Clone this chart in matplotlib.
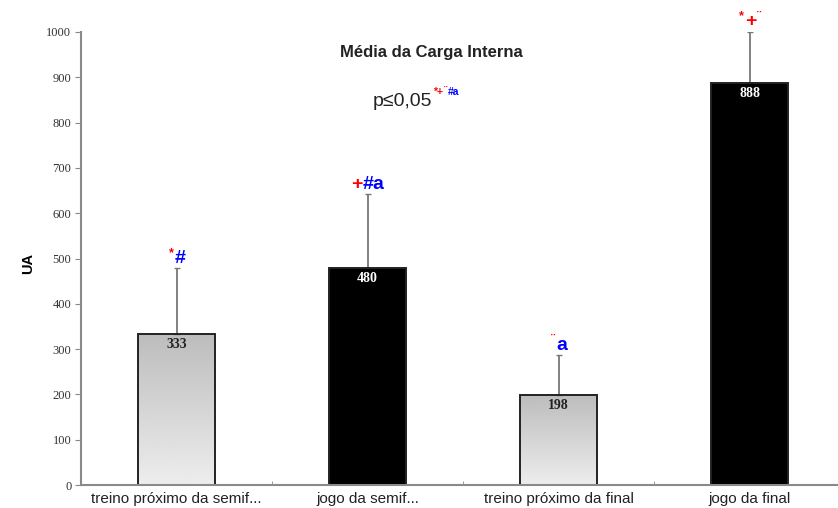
import numpy as np
import matplotlib
matplotlib.use("Agg")
import matplotlib.pyplot as plt
from matplotlib.transforms import offset_copy

# Mean internal load per session (UA) with upper SD
categories = ["treino próximo da semif...", "jogo da semif...",
              "treino próximo da final", "jogo da final"]
means = [333, 480, 198, 888]
sd_upper = [145, 162, 88, 112]
is_game = [False, True, False, True]

# significance marks above each bar: (symbol, colour, small?)
marks = [
    [("*", "red", True), ("#", "blue", False)],
    [("+", "red", False), ("#a", "blue", False)],
    [("¨", "red", True), ("a", "blue", False)],
    [("*", "red", True), ("+", "red", False), ("¨", "red", True)],
]
p_label = "p≤0,05"
p_marks = [("*+", "red", True), ("¨", "red", True), ("#a", "blue", True)]

fig = plt.figure(figsize=(8.38, 5.08), dpi=100)
ax = fig.add_axes([81 / 838, 23 / 508, 764 / 838, 453 / 508])

x = np.arange(len(categories))
width = 0.4
axis_grey = "#8a8a8a"
sans = "Liberation Sans"
serif = "Liberation Serif"


def piece_row(x0, y0, trans, pieces, big, small, rise, dy=0, center=True):
    """Write coloured pieces side by side on one baseline."""
    renderer = fig.canvas.get_renderer()
    texts = []
    for piece in pieces:
        sym, col, is_small = piece[:3]
        weight = piece[3] if len(piece) > 3 else "bold"
        t = fig.text(x0, y0, sym, transform=trans, color=col,
                     fontsize=small if is_small else big, fontweight=weight,
                     family=sans, ha="left", va="baseline")
        texts.append((t, is_small))
    widths = [t.get_window_extent(renderer).width * 72 / fig.dpi
              for t, _ in texts]
    pos = -sum(widths) / 2 if center else 0
    for (t, is_small), w in zip(texts, widths):
        t.set_transform(offset_copy(trans, fig=fig, x=pos,
                                    y=dy + (rise if is_small else 0),
                                    units="points"))
        pos += w + 0.5


bars = ax.bar(x, means, width=width, color="black", edgecolor="#222222",
              linewidth=1.4, zorder=2)

# grey gradient fill for the training bars
grad = np.linspace(0.93, 0.74, 256).reshape(-1, 1)
for b, game in zip(bars, is_game):
    if game:
        continue
    b.set_facecolor("none")
    x0, y0 = b.get_x(), b.get_y()
    img = ax.imshow(grad, cmap="gray", vmin=0, vmax=1, aspect="auto",
                    extent=[x0, x0 + b.get_width(), y0, y0 + b.get_height()],
                    origin="lower", zorder=1)
    img.set_clip_path(b)

ax.errorbar(x, means, yerr=[np.zeros(len(means)), sd_upper], fmt="none",
            ecolor="#777777", elinewidth=1.3, capsize=2, capthick=1, zorder=1)

# values printed at the top of each bar
for xi, m, game in zip(x, means, is_game):
    ax.annotate(str(m), (xi, m), xytext=(0, -3), textcoords="offset points",
                ha="center", va="top", fontsize=10, fontweight="bold",
                family=serif, color="white" if game else "#222222", zorder=3)

ax.set_xlim(-0.5, 3.5)
ax.set_ylim(0, 1000)
ax.set_yticks(range(0, 1001, 100))
ax.set_xticks(x)
ax.set_xticklabels(categories, fontsize=11, family=sans, color="#222222")
ax.set_xticks(x[:-1] + 0.5, minor=True)
ax.tick_params(axis="x", which="major", length=0, pad=5)
ax.tick_params(axis="x", which="minor", direction="in", length=3,
               color=axis_grey)
ax.tick_params(axis="y", direction="out", length=4, color=axis_grey,
               labelsize=9, labelcolor="#333333", pad=3)
for lab in ax.get_yticklabels():
    lab.set_family(serif)

for side in ["top", "right"]:
    ax.spines[side].set_visible(False)
for side in ["left", "bottom"]:
    ax.spines[side].set_color(axis_grey)
    ax.spines[side].set_linewidth(1.5)

# coloured significance symbols above the error bars
for xi, m, s, pieces in zip(x, means, sd_upper, marks):
    piece_row(xi, m + s, ax.transData, pieces, big=14, small=9, rise=5, dy=4)

fig.text(28 / 838, 1 - 263 / 508, "UA", rotation=90, ha="center",
         va="center", fontsize=10.5, fontweight="bold", family=sans)

fig.text(431 / 838, 1 - 52 / 508, "Média da Carga Interna", ha="center",
         va="center", fontsize=12, fontweight="bold", family=sans,
         color="#222222")

# p-value note with coloured superscript marks
piece_row(373 / 838, 1 - 106 / 508, fig.transFigure,
          [(p_label, "#222222", False, "normal")] + p_marks,
          big=14, small=7.5, rise=8, center=False)

fig.savefig("out.png", dpi=100)
